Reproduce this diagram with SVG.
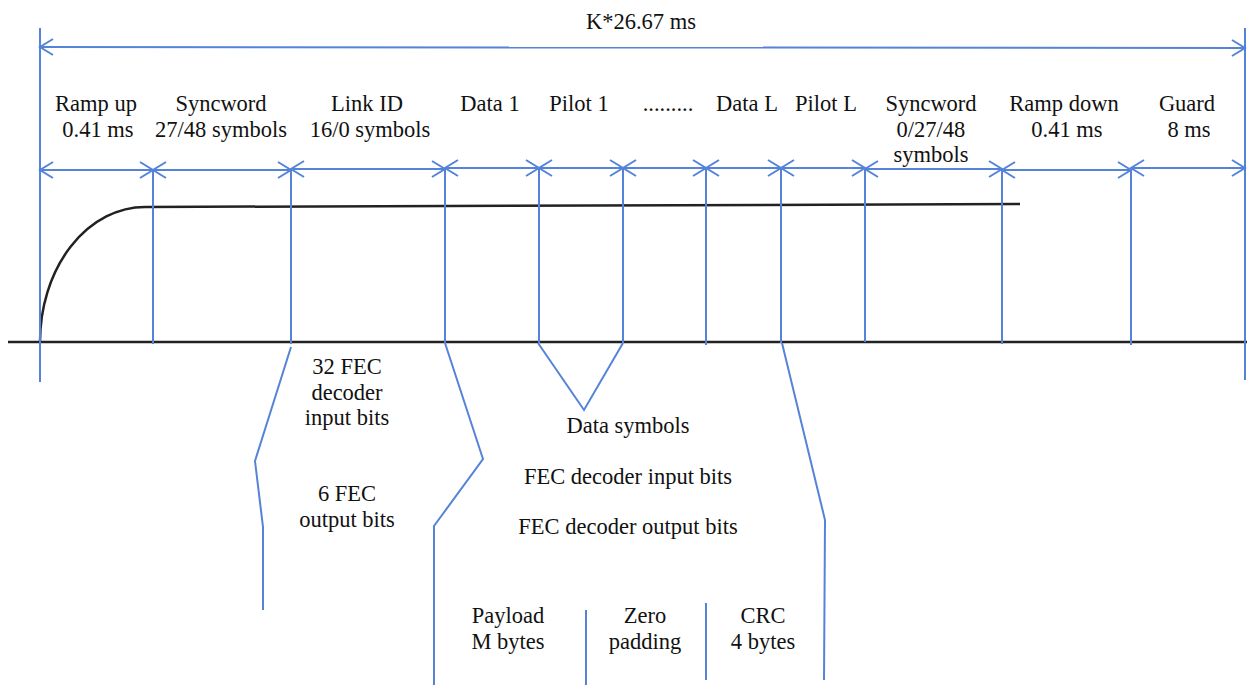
<svg xmlns="http://www.w3.org/2000/svg" width="1247" height="685" viewBox="0 0 1247 685" font-family="'Liberation Serif', 'Times New Roman', serif">
<defs>
<style>
text{font-family:'Liberation Serif','Times New Roman',serif;font-size:22.5px;fill:#111;text-anchor:middle}
.b{stroke:#5583d8;stroke-width:2;fill:none}
.k{stroke:#222;stroke-width:2.5;fill:none}
.a{marker-start:url(#ah);marker-end:url(#ah)}
</style>
<marker id="ah" markerUnits="userSpaceOnUse" markerWidth="30" markerHeight="30" refX="0" refY="0" viewBox="-15 -15 30 30" orient="auto-start-reverse" overflow="visible">
<path d="M-13,-8 L0,0 L-13,8" fill="none" stroke="#5583d8" stroke-width="2"/>
</marker>
</defs>
<rect width="1247" height="685" fill="#fff"/>
<g id="signal">
<path class="k" d="M8,342 L1247,342"/>
<path class="k" d="M40,342 A105,135 0 0 1 145,207 L1020,204"/>
</g>
<g id="connectors">
<path class="b" d="M40,28 V382 M1245,28 V380"/>
<path class="b a" d="M40,47 L1245,48"/>
<path class="b" d="M153,169 V344 M291,169 V344 M445,169 V343 M539,169 V343 M623,169 V343 M706,169 V345 M781,169 V343 M865,169 V342 M1002,169 V344 M1131,169 V345"/>
<path class="b a" d="M40,170 L153,170"/>
<path class="b a" d="M153,170 L291,170"/>
<path class="b a" d="M291,169 L445,169"/>
<path class="b a" d="M445,168 L539,168"/>
<path class="b a" d="M539,168 L623,168"/>
<path class="b a" d="M623,168 L706,168"/>
<path class="b a" d="M706,168 L781,168"/>
<path class="b a" d="M781,168 L865,168"/>
<path class="b a" d="M865,169 L1002,169"/>
<path class="b a" d="M1002,170 L1131,170"/>
<path class="b a" d="M1131,168 L1245,168"/>
<path class="b" d="M291,347 L255,461 L263,527 L263,610"/>
<path class="b" d="M445,343 L483,459 L434,526 L434,685"/>
<path class="b" d="M538,343 L584,410 L623,343"/>
<path class="b" d="M782,343 L825,520 L824,680"/>
<path class="b" d="M586,610 V685 M706,603 V680"/>
</g>
<g id="title"><text x="641" y="29">K*26.67 ms</text></g>
<g id="ramp-up"><text x="96" y="111">Ramp up</text><text x="98" y="137">0.41 ms</text></g>
<g id="syncword1"><text x="221" y="111">Syncword</text><text x="221" y="137">27/48 symbols</text></g>
<g id="link-id"><text x="367" y="111">Link ID</text><text x="370" y="137">16/0 symbols</text></g>
<g id="data1"><text x="490" y="111">Data 1</text></g>
<g id="pilot1"><text x="579" y="111">Pilot 1</text></g>
<g id="dots"><text x="668" y="111">.........</text></g>
<g id="dataL"><text x="747" y="111">Data L</text></g>
<g id="pilotL"><text x="826" y="111">Pilot L</text></g>
<g id="syncword2"><text x="931" y="111">Syncword</text><text x="931" y="137">0/27/48</text><text x="931" y="162">symbols</text></g>
<g id="ramp-down"><text x="1064" y="111">Ramp down</text><text x="1067" y="137">0.41 ms</text></g>
<g id="guard"><text x="1187" y="111">Guard</text><text x="1189" y="137">8 ms</text></g>
<g id="linkid-bits"><text x="347" y="374">32 FEC</text><text x="347" y="400">decoder</text><text x="347" y="425">input bits</text><text x="347" y="501">6 FEC</text><text x="347" y="527">output bits</text></g>
<g id="data-bits"><text x="628" y="433">Data symbols</text><text x="628" y="484">FEC decoder input bits</text><text x="628" y="534">FEC decoder output bits</text></g>
<g id="payload"><text x="508" y="623">Payload</text><text x="508" y="649">M bytes</text></g>
<g id="zero-padding"><text x="645" y="623">Zero</text><text x="645" y="649">padding</text></g>
<g id="crc"><text x="763" y="623">CRC</text><text x="763" y="649">4 bytes</text></g>
</svg>
